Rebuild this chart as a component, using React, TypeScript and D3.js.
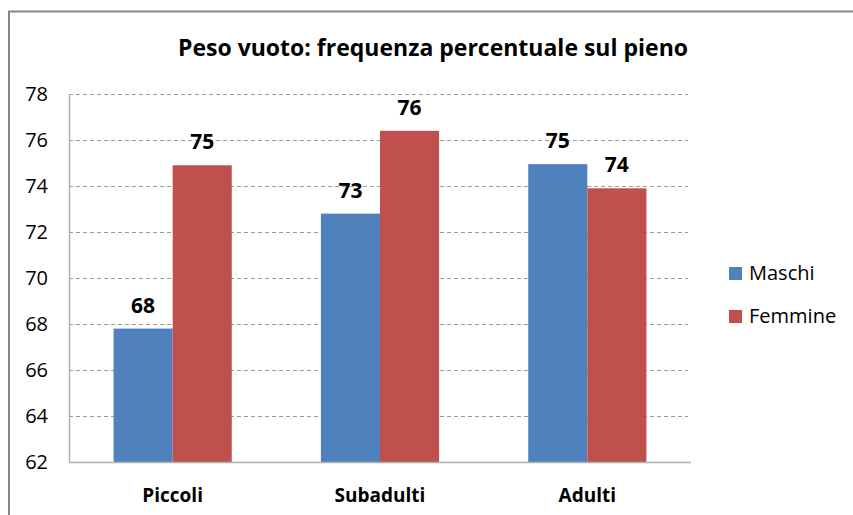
import React, { useEffect, useRef } from "react";
import * as d3 from "d3";

const categories = ["Piccoli", "Subadulti", "Adulti"];
const seriesNames = ["Maschi", "Femmine"];
const maschi = [67.8, 72.8, 74.95];
const femmine = [74.9, 76.4, 73.9];
const yTicks = [62, 64, 66, 68, 70, 72, 74, 76, 78];
const title = "Peso vuoto: frequenza percentuale sul pieno";

const colors = ["#4F81BD", "#C0504D"];
const font = "'Open Sans', 'Noto Sans', sans-serif";

const App = () => {
  const ref = useRef<SVGSVGElement>(null);

  useEffect(() => {
    const svg = d3.select(ref.current);
    svg.selectAll("*").remove();

    const plot = { left: 69, right: 691, top: 94, bottom: 462 };

    // outer chart frame
    svg
      .append("rect")
      .attr("x", 9)
      .attr("y", 11.5)
      .attr("width", 900)
      .attr("height", 600)
      .attr("fill", "#fff")
      .attr("stroke", "#868686")
      .attr("stroke-width", 2);

    svg
      .append("text")
      .attr("x", 433)
      .attr("y", 56)
      .attr("text-anchor", "middle")
      .attr("font-family", font)
      .attr("font-weight", "bold")
      .attr("font-size", 23)
      .attr("fill", "#000")
      .text(title);

    const x0 = d3
      .scaleBand()
      .domain(categories)
      .range([plot.left, plot.right])
      .paddingInner(0.43)
      .paddingOuter(0.215);
    const x1 = d3.scaleBand().domain(seriesNames).range([0, x0.bandwidth()]);
    const y = d3.scaleLinear().domain([62, 78]).range([plot.bottom, plot.top]);

    // gridlines
    svg
      .append("g")
      .selectAll("line")
      .data(yTicks.filter((t) => t !== 62))
      .join("line")
      .attr("x1", plot.left)
      .attr("x2", plot.right - 3)
      .attr("y1", (d) => y(d) + 0.5)
      .attr("y2", (d) => y(d) + 0.5)
      .attr("stroke", "#9a9a9a")
      .attr("stroke-width", 1)
      .attr("stroke-dasharray", "4,3");

    const series = [maschi, femmine];
    series.forEach((vals, si) => {
      const g = svg.append("g");
      g.selectAll("rect")
        .data(vals)
        .join("rect")
        .attr("x", (d, i) => x0(categories[i])! + x1(seriesNames[si])!)
        .attr("y", (d) => y(d))
        .attr("width", x1.bandwidth())
        .attr("height", (d) => plot.bottom - y(d))
        .attr("fill", colors[si]);
      g.selectAll("text")
        .data(vals)
        .join("text")
        .attr("x", (d, i) => x0(categories[i])! + x1(seriesNames[si])! + x1.bandwidth() / 2)
        .attr("y", (d) => y(d) - 16)
        .attr("text-anchor", "middle")
        .attr("font-family", font)
        .attr("font-weight", "bold")
        .attr("font-size", 21)
        .text((d) => d3.format(".0f")(d));
    });

    // axes
    svg
      .append("line")
      .attr("x1", plot.left + 0.5)
      .attr("x2", plot.left + 0.5)
      .attr("y1", plot.top)
      .attr("y2", plot.bottom)
      .attr("stroke", "#b0b0b0")
      .attr("stroke-width", 1.5);
    svg
      .append("line")
      .attr("x1", plot.left)
      .attr("x2", plot.right)
      .attr("y1", plot.bottom + 0.5)
      .attr("y2", plot.bottom + 0.5)
      .attr("stroke", "#b0b0b0")
      .attr("stroke-width", 1.5);

    svg
      .append("g")
      .selectAll("text")
      .data(yTicks)
      .join("text")
      .attr("x", 48)
      .attr("y", (d) => y(d) + 7)
      .attr("text-anchor", "end")
      .attr("font-family", font)
      .attr("font-size", 20)
      .attr("fill", "#000")
      .text((d) => d);

    svg
      .append("g")
      .selectAll("text")
      .data(categories)
      .join("text")
      .attr("x", (d) => x0(d)! + x0.bandwidth() / 2)
      .attr("y", 502)
      .attr("text-anchor", "middle")
      .attr("font-family", font)
      .attr("font-weight", "bold")
      .attr("font-size", 19)
      .text((d) => d);

    // legend
    const legend = svg
      .append("g")
      .selectAll("g")
      .data(seriesNames)
      .join("g")
      .attr("transform", (d, i) => `translate(729, ${267 + i * 43})`);
    legend
      .append("rect")
      .attr("width", 13)
      .attr("height", 13)
      .attr("fill", (d, i) => colors[i]);
    legend
      .append("text")
      .attr("x", 20)
      .attr("y", 13)
      .attr("font-family", font)
      .attr("font-size", 20)
      .text((d) => d);
  }, []);

  return (
    <svg
      ref={ref}
      width={853}
      height={515}
      style={{ position: "absolute", left: 0, top: 0 }}
    />
  );
};

export default App;
